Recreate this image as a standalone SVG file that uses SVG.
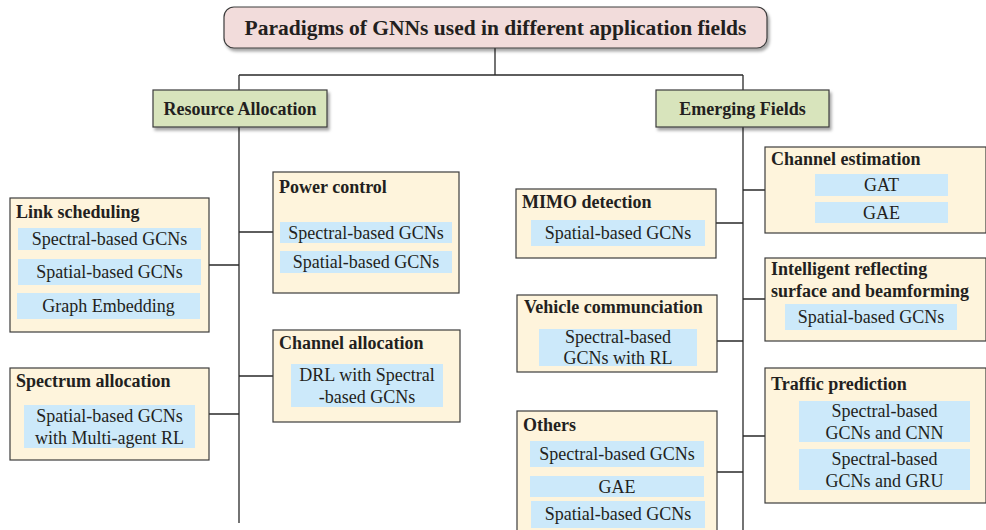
<svg xmlns="http://www.w3.org/2000/svg" width="986" height="530" viewBox="0 0 986 530">
<defs>
<filter id="sh" x="-5%" y="-5%" width="115%" height="130%">
<feDropShadow dx="2" dy="3" stdDeviation="1.5" flood-color="#000" flood-opacity="0.35"/>
</filter>
</defs>
<style>
.t{font-family:"Liberation Serif","Times New Roman",serif;fill:#231f20}
.h{font-weight:bold;font-size:18px}
.i{font-size:18px;text-anchor:middle}
.box{fill:#fef4dc;stroke:#3c3c3c;stroke-width:1.2}
.b{fill:#cce9fa}
.ln{stroke:#2a2a2a;stroke-width:1.3;fill:none}
</style>
<g id="connectors">
<path class="ln" d="M495 48V75M239 75H743M239 75V90M743 75V90"/>
<path class="ln" d="M239 127V523M743 127V530"/>
<path class="ln" d="M209 265H239M239 232H273M239 376H273M209 414H239"/>
<path class="ln" d="M716 223H743M743 190H765M743 299H765M717 341H743M743 436H765M717 472H743"/>
</g>
<g id="title">
<rect x="224" y="7" width="543" height="41" rx="10" fill="#f2dcdb" stroke="#3c3c3c" stroke-width="1.2" filter="url(#sh)"/>
<text class="t" x="495.5" y="34.5" font-size="21.5" font-weight="bold" text-anchor="middle">Paradigms of GNNs used in different application fields</text>
</g>
<g id="resource">
<rect x="153" y="90" width="174" height="37" fill="#d8e4bc" stroke="#3c3c3c" stroke-width="1.2" filter="url(#sh)"/>
<text class="t h" x="240" y="115" text-anchor="middle" font-size="18.4">Resource Allocation</text>
</g>
<g id="emerging">
<rect x="656" y="90" width="173" height="37" fill="#d8e4bc" stroke="#3c3c3c" stroke-width="1.2" filter="url(#sh)"/>
<text class="t h" x="742.5" y="115" text-anchor="middle" font-size="18.4">Emerging Fields</text>
</g>
<g id="link">
<rect class="box" x="10" y="198" width="199" height="134"/>
<text class="t h" x="16" y="218">Link scheduling</text>
<rect class="b" x="18" y="228" width="183" height="22"/>
<text class="t i" x="109.5" y="245">Spectral-based GCNs</text>
<rect class="b" x="18" y="259" width="183" height="26"/>
<text class="t i" x="109.5" y="278">Spatial-based GCNs</text>
<rect class="b" x="17" y="293" width="183" height="26"/>
<text class="t i" x="108.5" y="312">Graph Embedding</text>
</g>
<g id="power">
<rect class="box" x="273" y="172" width="186" height="121"/>
<text class="t h" x="279" y="193">Power control</text>
<rect class="b" x="280" y="222" width="172" height="21"/>
<text class="t i" x="366" y="239">Spectral-based GCNs</text>
<rect class="b" x="280" y="251" width="172" height="22"/>
<text class="t i" x="366" y="268">Spatial-based GCNs</text>
</g>
<g id="channel-allocation">
<rect class="box" x="273" y="330" width="187" height="92"/>
<text class="t h" x="279" y="349">Channel allocation</text>
<rect class="b" x="291" y="364" width="152" height="43"/>
<text class="t i" x="367" y="381">DRL with Spectral</text>
<text class="t i" x="367" y="403">-based GCNs</text>
</g>
<g id="spectrum">
<rect class="box" x="10" y="368" width="199" height="92"/>
<text class="t h" x="16" y="387">Spectrum allocation</text>
<rect class="b" x="24" y="405" width="171" height="43"/>
<text class="t i" x="109.5" y="422">Spatial-based GCNs</text>
<text class="t i" x="109.5" y="444">with Multi-agent RL</text>
</g>
<g id="channel-estimation">
<rect class="box" x="765" y="147" width="221" height="86"/>
<text class="t h" x="771" y="165">Channel estimation</text>
<rect class="b" x="815" y="174" width="133" height="22"/>
<text class="t i" x="881.5" y="191">GAT</text>
<rect class="b" x="815" y="202" width="133" height="21"/>
<text class="t i" x="881.5" y="219">GAE</text>
</g>
<g id="mimo">
<rect class="box" x="516" y="189" width="200" height="69"/>
<text class="t h" x="522" y="208">MIMO detection</text>
<rect class="b" x="531" y="220" width="174" height="26"/>
<text class="t i" x="618" y="239">Spatial-based GCNs</text>
</g>
<g id="irs">
<rect class="box" x="765" y="258" width="221" height="83"/>
<text class="t h" x="771" y="275">Intelligent reflecting</text>
<text class="t h" x="771" y="297">surface and beamforming</text>
<rect class="b" x="785" y="304" width="172" height="26"/>
<text class="t i" x="871" y="323">Spatial-based GCNs</text>
</g>
<g id="vehicle">
<rect class="box" x="517" y="295" width="200" height="77"/>
<text class="t h" x="524" y="313">Vehicle communciation</text>
<rect class="b" x="539" y="329" width="158" height="37"/>
<text class="t i" x="618" y="343">Spectral-based</text>
<text class="t i" x="618" y="364">GCNs with RL</text>
</g>
<g id="traffic">
<rect class="box" x="765" y="368" width="221" height="135"/>
<text class="t h" x="771" y="390">Traffic prediction</text>
<rect class="b" x="799" y="401" width="171" height="41"/>
<text class="t i" x="884.5" y="417">Spectral-based</text>
<text class="t i" x="884.5" y="439">GCNs and CNN</text>
<rect class="b" x="799" y="449" width="171" height="41"/>
<text class="t i" x="884.5" y="465">Spectral-based</text>
<text class="t i" x="884.5" y="487">GCNs and GRU</text>
</g>
<g id="others">
<rect class="box" x="517" y="411" width="200" height="125"/>
<text class="t h" x="523" y="431">Others</text>
<rect class="b" x="530" y="441" width="174" height="26"/>
<text class="t i" x="617" y="460">Spectral-based GCNs</text>
<rect class="b" x="530" y="476" width="174" height="21"/>
<text class="t i" x="617" y="493">GAE</text>
<rect class="b" x="531" y="501" width="174" height="27"/>
<text class="t i" x="618" y="520">Spatial-based GCNs</text>
</g>
</svg>
